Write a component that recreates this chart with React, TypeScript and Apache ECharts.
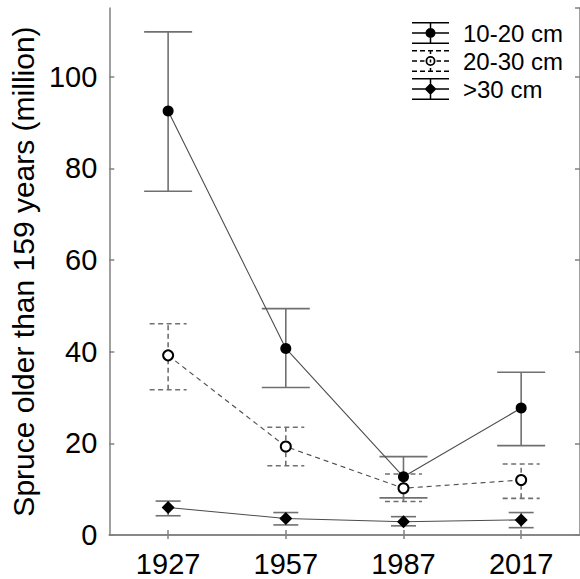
import React, { useEffect, useRef } from 'react';
import * as echarts from 'echarts';

const years = ['1927', '1957', '1987', '2017'];
const seriesNames = ['10-20 cm', '20-30 cm', '>30 cm'];

const smallMean = [92.5, 40.7, 12.7, 27.7];
const smallLow = [75.0, 32.2, 8.1, 19.5];
const smallHigh = [109.8, 49.4, 17.1, 35.5];

const midMean = [39.2, 19.3, 10.2, 12.0];
const midLow = [31.7, 15.1, 7.3, 8.0];
const midHigh = [46.1, 23.5, 13.3, 15.5];

const largeMean = [6.0, 3.6, 2.9, 3.3];
const largeLow = [4.2, 2.2, 2.0, 1.6];
const largeHigh = [7.4, 4.9, 4.0, 4.9];

const yName = 'Spruce older than 159 years (million)';

const FONT = '"Liberation Sans", Arial, Helvetica, sans-serif';
const AXIS_GRAY = '#808080';
const BAR_GRAY = '#707070';

const iconSolidCircle =
  'path://M0 0H37V1.5H0Z M0 20.5H37V22H0Z M0 10.25H37V11.75H0Z M17.75 0H19.25V22H17.75Z M13.5 11A5 5 0 1 1 23.5 11A5 5 0 1 1 13.5 11Z';
const iconDashedRing =
  'path://M0 0H5V1.5H0Z M8 0H13V1.5H8Z M16 0H21V1.5H16Z M24 0H29V1.5H24Z M32 0H37V1.5H32Z ' +
  'M0 20.5H5V22H0Z M8 20.5H13V22H8Z M16 20.5H21V22H16Z M24 20.5H29V22H24Z M32 20.5H37V22H32Z ' +
  'M0 10.25H5V11.75H0Z M8 10.25H12.5V11.75H8Z M24.5 10.25H29V11.75H24.5Z M32 10.25H37V11.75H32Z ' +
  'M17.75 0H19.25V4H17.75Z M17.75 18H19.25V22H17.75Z M17.75 9.5H19.25V12.5H17.75Z ' +
  'M13.5 11A5 5 0 1 1 23.5 11A5 5 0 1 1 13.5 11Z M15.3 11A3.2 3.2 0 1 0 21.7 11A3.2 3.2 0 1 0 15.3 11Z';
const iconSolidDiamond =
  'path://M0 0H37V1.5H0Z M0 20.5H37V22H0Z M0 10.25H37V11.75H0Z M17.75 0H19.25V22H17.75Z M18.5 5L24.5 11L18.5 17L12.5 11Z';

function errSeries(name: string, lows: number[], highs: number[], hw: number, dashed: boolean) {
  return {
    type: 'custom',
    name,
    z: 1,
    silent: true,
    data: lows.map((lo, i) => [i, lo, highs[i]]),
    encode: { x: 0, y: [1, 2] },
    renderItem: (params: any, api: any) => {
      const i = api.value(0);
      const lo = api.coord([i, api.value(1)]);
      const hi = api.coord([i, api.value(2)]);
      const style: any = { stroke: BAR_GRAY, lineWidth: 1.6, fill: null };
      if (dashed) style.lineDash = [5, 3.5];
      return {
        type: 'group',
        children: [
          { type: 'line', shape: { x1: lo[0], y1: lo[1], x2: hi[0], y2: hi[1] }, style },
          { type: 'line', shape: { x1: hi[0] - hw, y1: hi[1], x2: hi[0] + hw, y2: hi[1] }, style },
          { type: 'line', shape: { x1: lo[0] - hw, y1: lo[1], x2: lo[0] + hw, y2: lo[1] }, style },
        ],
      };
    },
  };
}

export default function App() {
  const ref = useRef<HTMLDivElement>(null);
  useEffect(() => {
    document.body.style.margin = '0';
    if (!ref.current) return;
    const chart = echarts.init(ref.current, null, { renderer: 'svg' });
    const axisLine = { show: true, lineStyle: { color: AXIS_GRAY, width: 1.5 } };
    const legendItemStyle = { color: '#000', borderWidth: 0 };
    chart.setOption({
      animation: false,
      backgroundColor: '#fff',
      textStyle: { fontFamily: FONT },
      grid: { left: 101, right: -1, top: 8, bottom: 44, containLabel: false },
      legend: {
        orient: 'vertical',
        left: 412,
        top: 21,
        padding: 0,
        itemWidth: 37,
        itemHeight: 22,
        itemGap: 4,
        selectedMode: false,
        symbolKeepAspect: false,
        itemStyle: legendItemStyle,
        textStyle: { fontFamily: FONT, fontSize: 24, lineHeight: 22, color: '#000', padding: [0, 0, 0, 9] },
        data: [
          { name: seriesNames[0], icon: iconSolidCircle, itemStyle: legendItemStyle },
          { name: seriesNames[1], icon: iconDashedRing, itemStyle: legendItemStyle },
          { name: seriesNames[2], icon: iconSolidDiamond, itemStyle: legendItemStyle },
        ],
      },
      xAxis: [
        {
          type: 'category',
          data: years,
          position: 'bottom',
          boundaryGap: true,
          axisLine,
          axisTick: { show: true, inside: true, alignWithLabel: true, length: 5, lineStyle: { color: AXIS_GRAY, width: 1.5 } },
          axisLabel: { fontFamily: FONT, fontSize: 29, color: '#000', margin: 14 },
          splitLine: { show: false },
        },
        {
          type: 'category',
          data: years,
          position: 'top',
          boundaryGap: true,
          axisLine,
          axisTick: { show: true, inside: true, alignWithLabel: true, length: 4, lineStyle: { color: AXIS_GRAY, width: 1.5 } },
          axisLabel: { show: false },
          splitLine: { show: false },
        },
      ],
      yAxis: [
        {
          type: 'value',
          min: 0,
          max: 115,
          interval: 20,
          position: 'left',
          name: yName,
          nameLocation: 'middle',
          nameGap: 63,
          nameTextStyle: { fontFamily: FONT, fontSize: 30, color: '#000' },
          axisLine,
          axisTick: { show: true, inside: true, length: 5, lineStyle: { color: AXIS_GRAY, width: 1.5 } },
          axisLabel: { fontFamily: FONT, fontSize: 29, color: '#000', margin: 12, showMaxLabel: false },
          splitLine: { show: false },
        },
        {
          type: 'value',
          min: 0,
          max: 115,
          interval: 20,
          position: 'right',
          axisLine,
          axisTick: { show: true, inside: true, length: 5, lineStyle: { color: AXIS_GRAY, width: 1.5 } },
          axisLabel: { show: false },
          splitLine: { show: false },
        },
      ],
      series: [
        errSeries('err-10-20', smallLow, smallHigh, 24, false),
        errSeries('err-20-30', midLow, midHigh, 18.5, true),
        errSeries('err-30', largeLow, largeHigh, 12.5, false),
        {
          type: 'line',
          name: seriesNames[0],
          data: smallMean,
          z: 3,
          symbol: 'circle',
          symbolSize: 11,
          itemStyle: { color: '#000' },
          lineStyle: { color: '#4d4d4d', width: 1.1 },
        },
        {
          type: 'line',
          name: seriesNames[1],
          data: midMean,
          z: 2,
          symbol: 'emptyCircle',
          symbolSize: 10,
          itemStyle: { color: '#000', borderWidth: 2.8 },
          lineStyle: { color: '#4d4d4d', width: 1.1, type: [5, 4] },
        },
        {
          type: 'line',
          name: seriesNames[2],
          data: largeMean,
          z: 3,
          symbol: 'diamond',
          symbolSize: 13,
          itemStyle: { color: '#000' },
          lineStyle: { color: '#4d4d4d', width: 1.1 },
        },
      ],
    });
    return () => chart.dispose();
  }, []);
  return <div ref={ref} style={{ width: 580, height: 579 }} />;
}
